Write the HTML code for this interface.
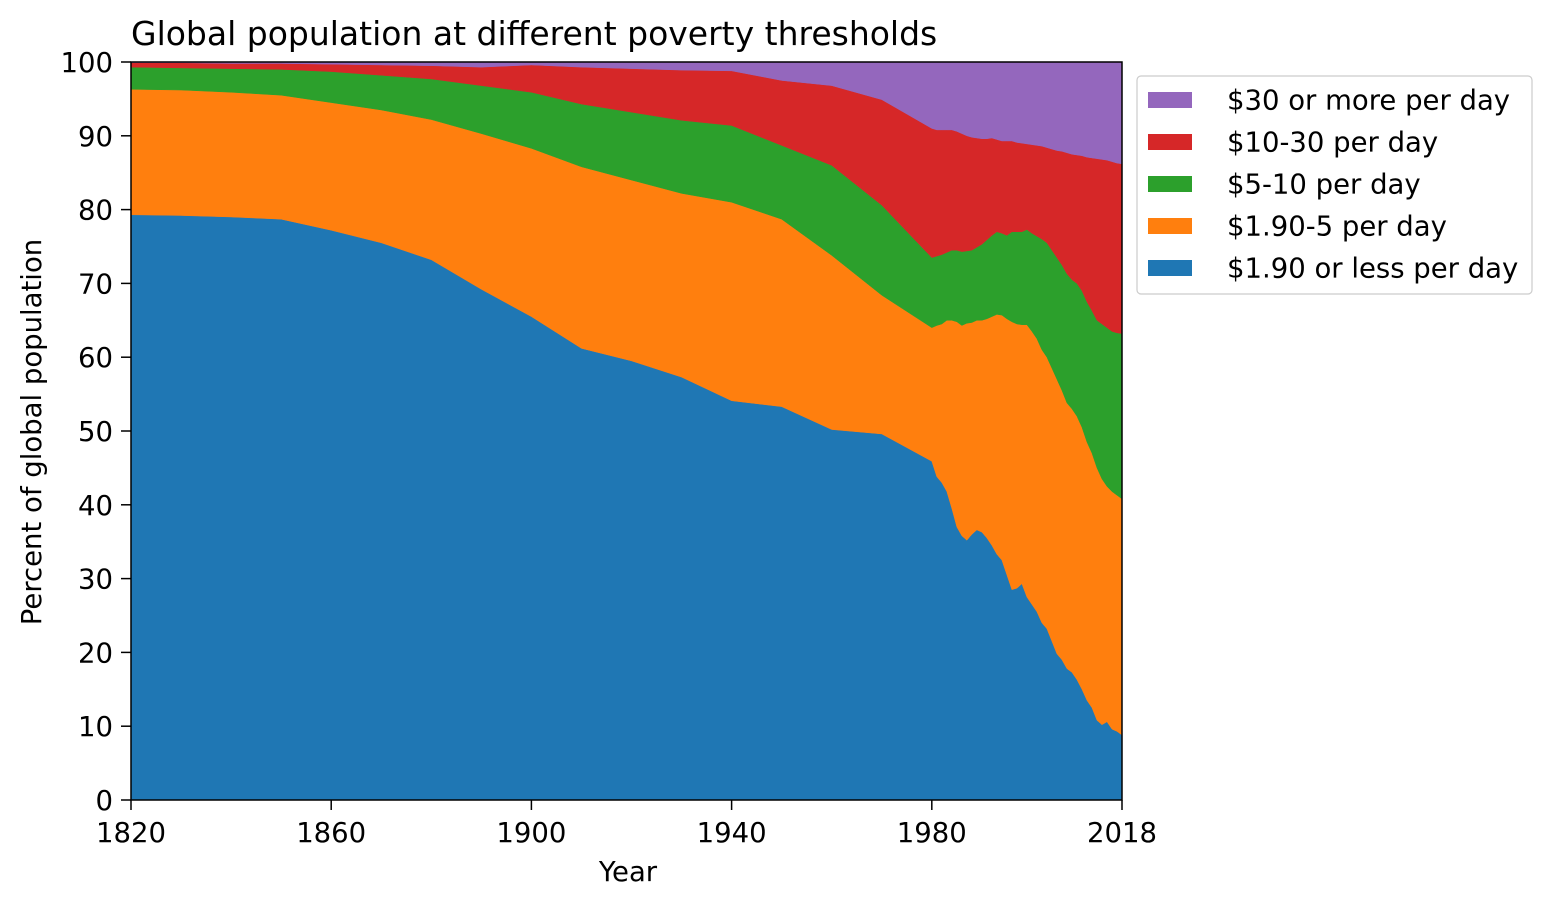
<!DOCTYPE html>
<html><head><meta charset="utf-8">
<style>
body{margin:0;background:#fff;}
svg text{font-family:"DejaVu Sans","Liberation Sans",sans-serif;fill:#000;}
</style></head>
<body>
<svg id="chart" width="1551" height="908" xmlns="http://www.w3.org/2000/svg">
<text x="131" y="45" font-size="33">Global population at different poverty thresholds</text>
<g id="areas"></g>
<rect x="131" y="62" width="991" height="738" fill="none" stroke="#000" stroke-width="1.5"/>
<g id="xticks"></g>
<g id="yticks"></g>
<text x="628" y="881" font-size="27.5" text-anchor="middle">Year</text>
<text transform="translate(41,432) rotate(-90)" font-size="27.5" text-anchor="middle">Percent of global population</text>
<g id="legend">
<rect x="1137" y="76" width="395" height="218" rx="4" fill="#fff" stroke="#ccc" stroke-width="1.2"/>
</g>
</svg>
<script>
const years=[1820,1830,1840,1850,1860,1870,1880,1890,1900,1910,1920,1930,1940,1950,1960,1970,
1980,1981,1982,1983,1984,1985,1986,1987,1988,1989,1990,1991,1992,1993,1994,1995,1996,1997,1998,1999,
2000,2001,2002,2003,2004,2005,2006,2007,2008,2009,2010,2011,2012,2013,2014,2015,2016,2017,2018];
// percent of population living below each threshold
const below190=[79.3,79.2,79.0,78.7,77.2,75.5,73.2,69.2,65.5,61.2,59.5,57.3,54.1,53.3,50.2,49.6,
45.9,43.8,43.0,41.8,39.5,37.0,35.8,35.2,36.0,36.6,36.3,35.5,34.5,33.3,32.5,30.5,28.5,28.7,29.3,27.5,
26.5,25.5,24.0,23.2,21.5,19.8,19.0,17.8,17.3,16.3,15.0,13.5,12.5,10.8,10.2,10.6,9.6,9.3,8.8];
const below5=[96.3,96.2,95.9,95.5,94.5,93.5,92.2,90.3,88.3,85.8,84.0,82.2,81.0,78.7,73.8,68.4,
64.0,64.3,64.5,65.0,65.0,64.8,64.3,64.6,64.7,65.0,65.0,65.2,65.5,65.8,65.7,65.2,64.8,64.5,64.4,64.4,
63.5,62.5,61.0,60.0,58.5,57.0,55.5,53.8,53.0,52.0,50.5,48.5,47.0,45.0,43.5,42.5,41.8,41.3,40.8];
const below10=[99.3,99.2,99.1,99.0,98.7,98.2,97.7,96.8,95.9,94.3,93.2,92.1,91.4,88.7,86.0,80.6,
73.5,73.7,73.9,74.2,74.5,74.5,74.3,74.4,74.5,74.9,75.3,75.9,76.5,77.0,76.8,76.5,77.0,77.0,77.0,77.3,
76.8,76.4,76.0,75.5,74.5,73.5,72.5,71.3,70.5,70.0,69.0,67.5,66.3,65.0,64.5,64.0,63.5,63.3,63.2];
const below30=[99.9,99.9,99.8,99.8,99.7,99.6,99.5,99.3,99.6,99.3,99.1,98.9,98.8,97.5,96.8,94.9,
91.0,90.8,90.8,90.8,90.8,90.6,90.3,90.0,89.8,89.7,89.6,89.6,89.7,89.5,89.3,89.3,89.3,89.1,89.0,88.9,
88.8,88.7,88.6,88.4,88.2,88.0,87.9,87.7,87.5,87.4,87.3,87.1,87.0,86.9,86.8,86.7,86.5,86.3,86.2];
const seriesNames=["$30 or more per day","$10-30 per day","$5-10 per day","$1.90-5 per day","$1.90 or less per day"];
const xTickLabels=[1820,1860,1900,1940,1980,2018];
const yTickLabels=[0,10,20,30,40,50,60,70,80,90,100];

const X0=131,X1=1122,Y0=800,Y1=62;
const xs=y=>X0+(y-1820)/(2018-1820)*(X1-X0);
const ys=v=>Y0-v/100*(Y0-Y1);
const NS="http://www.w3.org/2000/svg";
const ones=years.map(()=>100), zeros=years.map(()=>0);
const layers=[[zeros,below190,"#1f77b4","area-190-or-less"],[below190,below5,"#ff7f0e","area-190-5"],
[below5,below10,"#2ca02c","area-5-10"],[below10,below30,"#d62728","area-10-30"],[below30,ones,"#9467bd","area-30-plus"]];
const g=document.getElementById("areas");
layers.forEach(([lo,hi,c,n])=>{
  let d="M"+years.map((y,i)=>xs(y).toFixed(2)+","+ys(hi[i]).toFixed(2)).join("L");
  for(let i=years.length-1;i>=0;i--) d+="L"+xs(years[i]).toFixed(2)+","+ys(lo[i]).toFixed(2);
  const p=document.createElementNS(NS,"path");
  p.setAttribute("d",d+"Z");p.setAttribute("fill",c);p.setAttribute("stroke",c);p.setAttribute("stroke-width","0.5");
  
  
  g.appendChild(p);
});
const xt=document.getElementById("xticks");
xTickLabels.forEach(v=>{
  const l=document.createElementNS(NS,"line");
  l.setAttribute("x1",xs(v));l.setAttribute("x2",xs(v));l.setAttribute("y1",800);l.setAttribute("y2",810);l.setAttribute("stroke","#000");l.setAttribute("stroke-width","1.5");
  
  
  xt.appendChild(l);
  const t=document.createElementNS(NS,"text");
  t.setAttribute("x",xs(v));t.setAttribute("y",842);t.setAttribute("font-size","27.5");t.setAttribute("text-anchor","middle");t.textContent=v;
  
  
  xt.appendChild(t);
});
const yt=document.getElementById("yticks");
yTickLabels.forEach(v=>{
  const l=document.createElementNS(NS,"line");
  l.setAttribute("x1",121);l.setAttribute("x2",131);l.setAttribute("y1",ys(v));l.setAttribute("y2",ys(v));l.setAttribute("stroke","#000");l.setAttribute("stroke-width","1.5");
  
  
  yt.appendChild(l);
  const t=document.createElementNS(NS,"text");
  t.setAttribute("x",113);t.setAttribute("y",ys(v)+10);t.setAttribute("font-size","27.5");t.setAttribute("text-anchor","end");t.textContent=v;
  
  
  yt.appendChild(t);
});
const lg=document.getElementById("legend");
const lcols=["#9467bd","#d62728","#2ca02c","#ff7f0e","#1f77b4"];
seriesNames.forEach((s,i)=>{
  const cy=100+i*42;
  const r=document.createElementNS(NS,"rect");
  r.setAttribute("x",1148);r.setAttribute("y",cy-8);r.setAttribute("width",44);r.setAttribute("height",16);r.setAttribute("fill",lcols[i]);
  
  
  lg.appendChild(r);
  const t=document.createElementNS(NS,"text");
  t.setAttribute("x",1227);t.setAttribute("y",cy+9.5);t.setAttribute("font-size","27.5");t.textContent=s;
  
  
  lg.appendChild(t);
});
</script>
</body></html>
